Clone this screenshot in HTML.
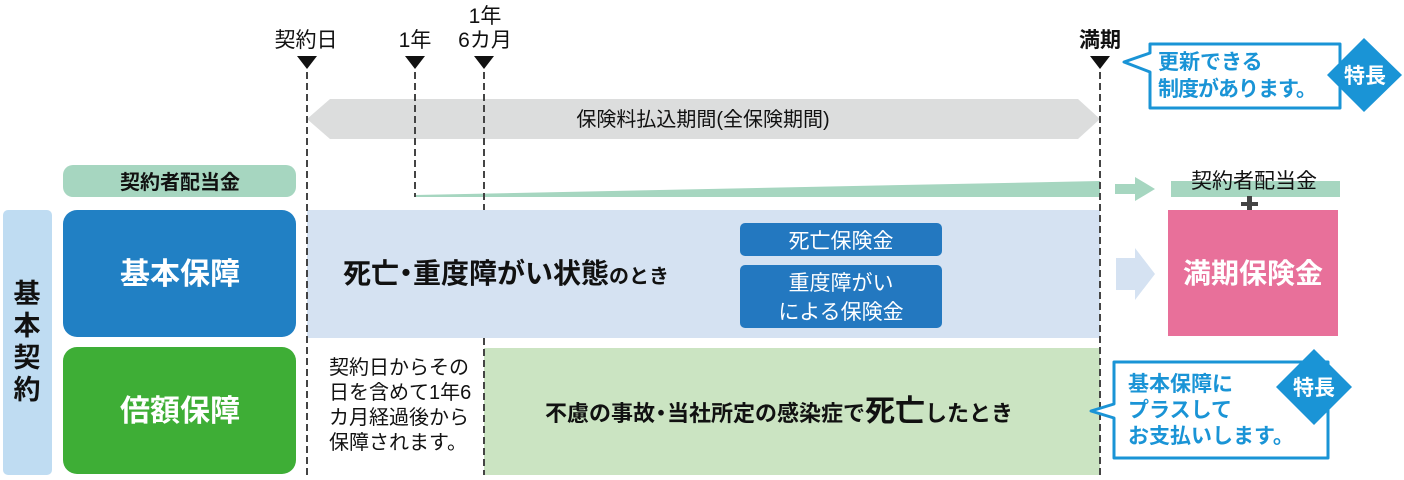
<!DOCTYPE html>
<html><head><meta charset="utf-8"><style>
html,body{margin:0;padding:0;background:#fff;}
svg{display:block;font-family:"Liberation Sans","Noto Sans CJK JP",sans-serif;}
</style></head><body>
<svg width="1404" height="480" viewBox="0 0 1404 480">
<!-- gray bar -->
<polygon points="307,119 330,99 1078,99 1100,119 1078,139 330,139" fill="#dcdddd"/>
<text x="703" y="126" font-size="20" text-anchor="middle" fill="#111">保険料払込期間(全保険期間)</text>
<!-- dividend label -->
<rect x="63" y="165" width="233" height="32" rx="10" fill="#a6d6c0"/>
<text x="180" y="189" font-size="20" font-weight="bold" text-anchor="middle" fill="#111">契約者配当金</text>
<!-- wedge -->
<polygon points="415,195 1100,181 1100,197 415,197" fill="#a6d6c0"/>
<polygon points="1115,184 1135,184 1135,177 1155,189 1135,201 1135,194 1115,194" fill="#a6d6c0"/>
<!-- vertical 基本契約 -->
<rect x="3" y="210" width="49" height="265" rx="5" fill="#bfdcf2"/>
<text font-size="27" font-weight="bold" fill="#111" text-anchor="middle"><tspan x="27" y="303">基</tspan><tspan x="27" y="335">本</tspan><tspan x="27" y="367">契</tspan><tspan x="27" y="399">約</tspan></text>
<!-- left boxes -->
<rect x="63" y="210" width="233" height="127" rx="14" fill="#2180c4"/>
<text x="180" y="284" font-size="30" font-weight="bold" text-anchor="middle" fill="#fff">基本保障</text>
<rect x="63" y="347" width="233" height="127" rx="14" fill="#3eae36"/>
<text x="180" y="421" font-size="30" font-weight="bold" text-anchor="middle" fill="#fff">倍額保障</text>
<!-- blue area -->
<rect x="307" y="210" width="793" height="128" fill="#d5e2f2"/>
<text x="343" y="283" font-size="28" font-weight="bold" fill="#111">死亡<tspan dx="-7">・</tspan><tspan dx="-7">重度障がい状態</tspan><tspan font-size="20">のとき</tspan></text>
<rect x="740" y="223" width="202" height="33" rx="5" fill="#2378c0"/>
<text x="841" y="248" font-size="21" text-anchor="middle" fill="#fff">死亡保険金</text>
<rect x="740" y="265" width="202" height="63" rx="5" fill="#2378c0"/>
<text x="841" y="290" font-size="21" text-anchor="middle" fill="#fff">重度障がい</text>
<text x="841" y="319" font-size="21" text-anchor="middle" fill="#fff">による保険金</text>
<!-- green area -->
<rect x="484" y="348" width="616" height="127" fill="#cbe4c2"/>
<text x="545" y="421" font-size="22" font-weight="bold" fill="#111">不慮の事故<tspan dx="-5">・</tspan><tspan dx="-5">当社所定の感染症で</tspan><tspan font-size="30">死亡</tspan>したとき</text>
<text font-size="20" fill="#111"><tspan x="329" y="374">契約日からその</tspan><tspan x="329" y="399">日を含めて1年6</tspan><tspan x="329" y="424">カ月経過後から</tspan><tspan x="329" y="449">保障されます。</tspan></text>
<!-- big arrow -->
<polygon points="1116,258 1135,258 1135,248 1155,274 1135,300 1135,290 1116,290" fill="#d5e2f2"/>
<!-- right -->
<rect x="1171" y="181" width="169" height="16" fill="#a6d6c0"/>
<text x="1254" y="188" font-size="21" text-anchor="middle" fill="#111">契約者配当金</text>
<rect x="1241" y="202" width="17" height="4" fill="#444"/>
<rect x="1247" y="196" width="5" height="16" fill="#444"/>
<rect x="1168" y="210" width="170" height="126" fill="#e8709a"/>
<text x="1253" y="283" font-size="28" font-weight="bold" text-anchor="middle" fill="#fff">満期保険金</text>
<!-- dashed lines -->
<g stroke="#444" stroke-width="2" stroke-dasharray="7,4">
<line x1="307" y1="72" x2="307" y2="475"/>
<line x1="415" y1="72" x2="415" y2="197"/>
<line x1="484" y1="72" x2="484" y2="210"/>
<line x1="484" y1="338" x2="484" y2="475"/>
<line x1="1100" y1="72" x2="1100" y2="475"/>
</g>
<!-- markers -->
<g fill="#111">
<polygon points="297,56 317,56 307,69"/>
<polygon points="405,56 425,56 415,69"/>
<polygon points="474,56 494,56 484,69"/>
<polygon points="1090,56 1110,56 1100,69"/>
</g>
<g font-size="21" fill="#111" text-anchor="middle">
<text x="306" y="47">契約日</text>
<text x="415" y="47">1年</text>
<text x="485" y="23">1年</text>
<text x="485" y="47">6カ月</text>
<text x="1100" y="47" font-weight="bold">満期</text>
</g>
<!-- callout 1 -->
<path d="M1150,44 H1340 V108 H1150 V72 L1124,62 L1150,53 Z" fill="#fff" stroke="#1a94d6" stroke-width="3" stroke-linejoin="round"/>
<text x="1158" y="69" font-size="21" font-weight="bold" fill="#1a94d6">更新できる</text>
<text x="1158" y="96" font-size="21" font-weight="bold" fill="#1a94d6" letter-spacing="-1">制度があります。</text>
<polygon points="1364,38 1402,75 1364,112 1327,75" fill="#1a94d6"/>
<text x="1365" y="83" font-size="21" font-weight="bold" text-anchor="middle" fill="#fff">特長</text>
<!-- callout 2 -->
<path d="M1114,362 H1328 V458 H1114 V418 L1091,411 L1114,404 Z" fill="#fff" stroke="#1a94d6" stroke-width="3" stroke-linejoin="round"/>
<text font-size="21" font-weight="bold" fill="#1a94d6"><tspan x="1128" y="391">基本保障に</tspan><tspan x="1128" y="417">プラスして</tspan><tspan x="1128" y="443">お支払いします。</tspan></text>
<polygon points="1314,349 1352,387 1314,425 1276,387" fill="#1a94d6"/>
<text x="1314" y="395" font-size="21" font-weight="bold" text-anchor="middle" fill="#fff">特長</text>
</svg>
</body></html>
